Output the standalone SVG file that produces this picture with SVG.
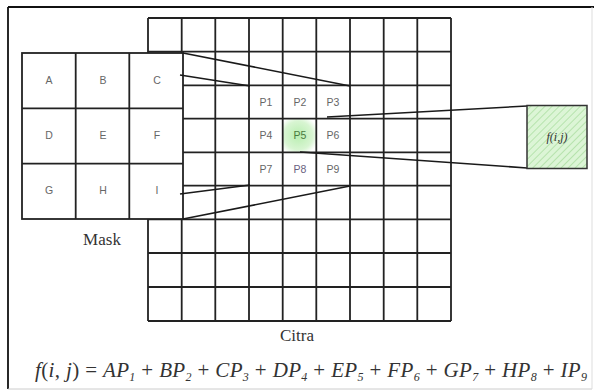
<svg xmlns="http://www.w3.org/2000/svg" width="594" height="392" viewBox="0 0 594 392">
<style>
.g{stroke:#222;stroke-width:1.8;fill:none}
.m{fill:#fff;stroke:#222;stroke-width:1.8}
.c{stroke:#1a1a1a;stroke-width:1.6;fill:none}
.lbl{font-family:"Liberation Sans",Arial,sans-serif;font-size:10.5px;fill:#666;text-anchor:middle}
.ser{font-family:"Liberation Serif","Times New Roman",serif;fill:#333}
</style>
<defs>
<pattern id="hatch" width="5" height="5" patternUnits="userSpaceOnUse" patternTransform="rotate(45)">
<rect width="5" height="5" fill="#dcf5d6"/>
<line x1="0" y1="0" x2="0" y2="5" stroke="#a6dc9c" stroke-width="1.4"/>
</pattern>
<radialGradient id="p5g" cx="0.45" cy="0.5" r="0.6">
<stop offset="0" stop-color="#b8eeb0"/>
<stop offset="0.7" stop-color="#d8f5d2"/>
<stop offset="1" stop-color="#ffffff"/>
</radialGradient>
</defs>
<rect width="594" height="392" fill="#fff"/>
<g id="frame">
<line x1="8" y1="7" x2="594" y2="7" stroke="#111" stroke-width="1.8"/>
<line x1="8" y1="7" x2="8" y2="389" stroke="#111" stroke-width="1.8"/>
<line x1="8" y1="389" x2="592" y2="389" stroke="#ccc" stroke-width="1"/>
<line x1="592" y1="7" x2="592" y2="389" stroke="#ddd" stroke-width="1"/>
</g>
<g id="citra">
<rect x="283" y="118.5" width="34" height="34" fill="url(#p5g)"/>
<path class="g" d="M148 18H451M148 51.7H451M148 85.3H451M148 118.7H451M148 152.3H451M148 185.7H451M148 219.3H451M148 253H451M148 287H451M148 321H451
M148 18V321M181.7 18V321M215.3 18V321M249 18V321M282.7 18V321M316.3 18V321M350 18V321M383.7 18V321M417.3 18V321M451 18V321"/>
<g class="lbl">
<text x="266" y="106">P1</text><text x="300" y="106">P2</text><text x="333" y="106">P3</text>
<text x="266" y="139">P4</text><text x="300" y="139" fill="#4a7a40">P5</text><text x="333" y="139">P6</text>
<text x="266" y="173">P7</text><text x="300" y="173" fill="#6a6080">P8</text><text x="333" y="173">P9</text>
</g>
<text class="ser" x="280" y="341" font-size="17">Citra</text>
</g>
<g id="mask">
<rect class="m" x="22" y="53" width="161" height="166"/>
<path class="g" d="M75.7 53V219M129.3 53V219M22 108.3H183M22 163.7H183"/>
<g class="lbl">
<text x="49" y="84">A</text><text x="103" y="84">B</text><text x="157" y="84">C</text>
<text x="49" y="139">D</text><text x="103" y="139">E</text><text x="157" y="139">F</text>
<text x="49" y="194">G</text><text x="103" y="194">H</text><text x="157" y="194">I</text>
</g>
<text class="ser" x="102" y="245" font-size="17" text-anchor="middle">Mask</text>
</g>
<g id="connectors">
<line class="c" x1="183" y1="53" x2="350" y2="86"/>
<line class="c" x1="180" y1="75" x2="250" y2="86"/>
<line class="c" x1="180" y1="194" x2="250" y2="185"/>
<line class="c" x1="183" y1="219" x2="350" y2="186"/>
<line class="c" x1="327" y1="117" x2="527" y2="106"/>
<line class="c" x1="300" y1="152" x2="527" y2="168"/>
</g>
<g id="result">
<rect x="527" y="105.5" width="60" height="63" fill="url(#hatch)" stroke="#333" stroke-width="1.5"/>
<text class="ser" x="557" y="141" font-size="12" font-style="italic" text-anchor="middle" fill="#555">f(i,j)</text>
</g>
<g id="formula">
<text class="ser" x="35" y="377" font-size="21" font-style="italic" fill="#222" textLength="552" lengthAdjust="spacing">f<tspan font-style="normal">(</tspan>i<tspan font-style="normal">, </tspan>j<tspan font-style="normal">) = </tspan>AP<tspan font-size="12" dy="4">1</tspan><tspan dy="-4" font-style="normal"> + </tspan>BP<tspan font-size="12" dy="4">2</tspan><tspan dy="-4" font-style="normal"> + </tspan>CP<tspan font-size="12" dy="4">3</tspan><tspan dy="-4" font-style="normal"> + </tspan>DP<tspan font-size="12" dy="4">4</tspan><tspan dy="-4" font-style="normal"> + </tspan>EP<tspan font-size="12" dy="4">5</tspan><tspan dy="-4" font-style="normal"> + </tspan>FP<tspan font-size="12" dy="4">6</tspan><tspan dy="-4" font-style="normal"> + </tspan>GP<tspan font-size="12" dy="4">7</tspan><tspan dy="-4" font-style="normal"> + </tspan>HP<tspan font-size="12" dy="4">8</tspan><tspan dy="-4" font-style="normal"> + </tspan>IP<tspan font-size="12" dy="4">9</tspan></text>
</g>
</svg>
